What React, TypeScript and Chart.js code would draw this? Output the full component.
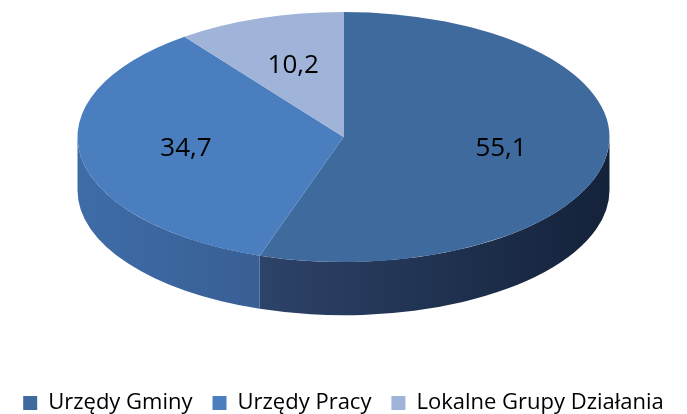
import React, { useEffect, useRef } from "react";
import { Chart, registerables } from "chart.js";

Chart.register(...registerables);

const categories = ["Urzędy Gminy", "Urzędy Pracy", "Lokalne Grupy Działania"];
const values = [55.1, 34.7, 10.2];

const topColors = ["#3F6A9E", "#4A7EBF", "#A0B3D8"];
const sideLeft = ["#3A5480", "#3E6CA8", "#8FA2C8"];
const sideRight = ["#14223A", "#2E466E", "#5F7092"];

const TILT = 0.47;
const DEPTH = 0.2;
const LABEL_POS = 0.6;

const pie3d = {
  id: "pie3d",
  beforeDatasetsDraw(chart: any) {
    const meta = chart.getDatasetMeta(0);
    const arcs = meta.data as any[];
    if (!arcs.length) return;
    const ctx = chart.ctx as CanvasRenderingContext2D;
    const { x: cx, y: cy, outerRadius: r } = arcs[0];
    const ry = r * TILT;
    const d = r * DEPTH;
    arcs.forEach((arc: any, i: number) => {
      const s = arc.startAngle;
      const e = arc.endAngle;
      for (let n = -1; n <= 1; n++) {
        const a1 = Math.max(s + 2 * Math.PI * n, 0);
        const a2 = Math.min(e + 2 * Math.PI * n, Math.PI);
        if (a2 <= a1) continue;
        const g = ctx.createLinearGradient(cx - r, 0, cx + r, 0);
        g.addColorStop(0, sideLeft[i]);
        g.addColorStop(1, sideRight[i]);
        ctx.beginPath();
        ctx.ellipse(cx, cy, r, ry, 0, a1, a2, false);
        ctx.ellipse(cx, cy + d, r, ry, 0, a2, a1, true);
        ctx.closePath();
        ctx.fillStyle = g;
        ctx.fill();
      }
    });
    ctx.save();
    ctx.translate(cx, cy);
    ctx.scale(1, TILT);
    ctx.translate(-cx, -cy);
  },
  afterDatasetsDraw(chart: any) {
    const ctx = chart.ctx as CanvasRenderingContext2D;
    ctx.restore();
    const arcs = chart.getDatasetMeta(0).data as any[];
    if (!arcs.length) return;
    const { x: cx, y: cy, outerRadius: r } = arcs[0];
    ctx.save();
    ctx.font = "26px 'Open Sans'";
    ctx.fillStyle = "#000";
    ctx.textAlign = "center";
    ctx.textBaseline = "middle";
    arcs.forEach((arc: any, i: number) => {
      const m = (arc.startAngle + arc.endAngle) / 2;
      const x = cx + Math.cos(m) * r * LABEL_POS;
      const y = cy + Math.sin(m) * r * TILT * LABEL_POS;
      ctx.fillText(values[i].toFixed(1).replace(".", ","), x, y);
    });
    ctx.restore();
  },
};

export default function App() {
  const ref = useRef<HTMLCanvasElement>(null);
  useEffect(() => {
    if (!ref.current) return;
    const chart = new Chart(ref.current, {
      type: "pie",
      data: {
        labels: categories,
        datasets: [
          {
            data: values,
            backgroundColor: topColors,
            borderWidth: 0,
            radius: 266,
          } as any,
        ],
      },
      options: {
        responsive: false,
        animation: false,
        devicePixelRatio: 1,
        plugins: {
          legend: {
            position: "bottom",
            labels: {
              boxWidth: 14,
              boxHeight: 14,
              padding: 20,
              color: "#000",
              font: { family: "'Open Sans'", size: 22 },
            },
          },
          tooltip: { enabled: false },
        },
      },
      plugins: [pie3d],
    });
    return () => chart.destroy();
  }, []);
  return (
    <div
      style={{
        position: "absolute",
        left: 0,
        top: 0,
        width: 687,
        height: 414,
        overflow: "hidden",
      }}
    >
      <canvas
        ref={ref}
        width={687}
        height={522}
        style={{ position: "absolute", left: 0, top: -98 }}
      />
    </div>
  );
}
